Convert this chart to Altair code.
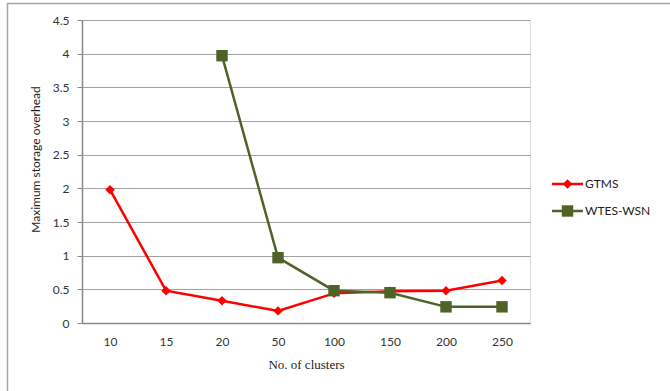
import altair as alt
import pandas as pd

# Cluster counts shown on the x axis (categorical, evenly spaced)
clusters = ["10", "15", "20", "50", "100", "150", "200", "250"]

# Maximum storage overhead per scheme
gtms = [1.98, 0.48, 0.33, 0.18, 0.44, 0.47, 0.48, 0.63]
wtes_clusters = ["20", "50", "100", "150", "200", "250"]
wtes = [3.97, 0.97, 0.48, 0.45, 0.24, 0.24]

series_names = ["GTMS", "WTES-WSN"]
series_colors = ["#FF0000", "#4F6228"]
series_shapes = ["diamond", "square"]
series_sizes = [90, 130]

rows = [{"clusters": c, "overhead": v, "scheme": "GTMS"} for c, v in zip(clusters, gtms)]
rows += [{"clusters": c, "overhead": v, "scheme": "WTES-WSN"} for c, v in zip(wtes_clusters, wtes)]
df = pd.DataFrame(rows)
legend_df = pd.DataFrame({"scheme": series_names})

FONT = "Lato"

x_enc = alt.X(
    "clusters:N",
    sort=clusters,
    scale=alt.Scale(domain=clusters, paddingInner=0, paddingOuter=0),
    axis=alt.Axis(
        title="No. of clusters",
        titleFont="Liberation Serif",
        titleFontSize=13,
        titleFontWeight="normal",
        titleColor="#222222",
        titlePadding=11,
        labelAngle=0,
        labelFont=FONT,
        labelFontSize=12,
        labelColor="#333333",
        labelPadding=13,
        ticks=False,
        domainColor="#888888",
        domainWidth=1.5,
        grid=False,
    ),
)
y_enc = alt.Y(
    "overhead:Q",
    scale=alt.Scale(domain=[0, 4.5], nice=False),
    axis=alt.Axis(
        title="Maximum storage overhead",
        titleFont=FONT,
        titleFontSize=12,
        titleFontWeight="normal",
        titleColor="#222222",
        titlePadding=10,
        titleY=139,
        values=[0, 0.5, 1, 1.5, 2, 2.5, 3, 3.5, 4, 4.5],
        labelExpr="'' + datum.value",
        labelFont=FONT,
        labelFontSize=12,
        labelColor="#333333",
        labelPadding=8,
        tickSize=5,
        tickColor="#888888",
        domainColor="#888888",
        domainWidth=1.5,
        gridColor="#A0A0A0",
        gridWidth=1.2,
    ),
)

color_enc = alt.Color("scheme:N", scale=alt.Scale(domain=series_names, range=series_colors), legend=None)
shape_enc = alt.Shape("scheme:N", scale=alt.Scale(domain=series_names, range=series_shapes), legend=None)
size_enc = alt.Size("scheme:N", scale=alt.Scale(domain=series_names, range=series_sizes), legend=None)

base = alt.Chart(df).encode(x=x_enc, y=y_enc, color=color_enc)

lines = base.mark_line(strokeWidth=2.5).encode(detail="scheme:N")
points = base.mark_point(filled=True, opacity=1).encode(shape=shape_enc, size=size_enc)
plot = alt.layer(lines, points)

# Legend: one row per series, a line segment with its marker and the name
legend_y = alt.Y(
    "scheme:N",
    scale=alt.Scale(type="band", domain=series_names, range=[150.5, 204.5], paddingInner=0, paddingOuter=0),
    axis=None,
)
legend_base = alt.Chart(legend_df).encode(y=legend_y, color=color_enc)
legend_line = legend_base.mark_rule(strokeWidth=2.5).encode(x=alt.value(470), x2=alt.value(501))
legend_mark = legend_base.mark_point(filled=True, opacity=1).encode(
    x=alt.value(485.5), shape=shape_enc, size=size_enc
)
legend_text = legend_base.mark_text(
    align="left", baseline="middle", font=FONT, fontSize=12, color="#222222"
).encode(x=alt.value(503), text="scheme:N", color=alt.value("#222222"))
legend = alt.layer(legend_line, legend_mark, legend_text)

# Thin frame along the top and left edges of the figure
frame_top = alt.Chart(pd.DataFrame({"k": [0]})).mark_rule(color="#A6A6A6", strokeWidth=1.5).encode(
    x=alt.value(-75), x2=alt.value(600), y=alt.value(-16.5)
)
frame_left = alt.Chart(pd.DataFrame({"k": [0]})).mark_rule(color="#A6A6A6", strokeWidth=1.5).encode(
    x=alt.value(-74.5), y=alt.value(-17), y2=alt.value(380)
)

chart = (
    alt.layer(frame_top, frame_left, plot, legend)
    .resolve_scale(y="independent")
    .properties(
        width=448,
        height=303,
        autosize=alt.AutoSizeParams(type="none"),
        padding={"left": 82, "top": 20, "right": 140, "bottom": 68},
    )
    .configure_view(stroke=None)
    .configure(background="white")
)

chart.save("out.html", embed_options={"renderer": "svg", "actions": False})
